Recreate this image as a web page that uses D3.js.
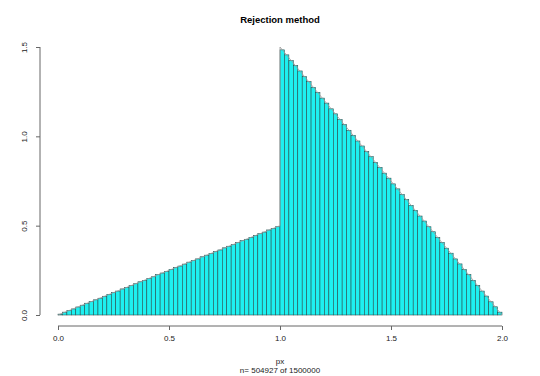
<!DOCTYPE html>
<html>
<head>
<meta charset="utf-8">
<script src="https://cdn.jsdelivr.net/npm/d3@7"></script>
<style>
  body { margin: 0; background: #fff; }
  svg { font-family: 'Liberation Sans', Arial, sans-serif; }
</style>
</head>
<body>
<div id="chart"></div>
<script>
// histogram of accepted samples, 100 bins of width 0.02 on [0, 2]
var binWidth = 0.02
// densities for bins on [0, 1)
var lowerDensity = [0.005, 0.016, 0.025, 0.034, 0.045, 0.055, 0.066, 0.075, 0.085, 0.094,
  0.105, 0.116, 0.125, 0.134, 0.146, 0.155, 0.164, 0.175, 0.186, 0.194,
  0.205, 0.214, 0.226, 0.235, 0.244, 0.255, 0.266, 0.274, 0.285, 0.296,
  0.305, 0.314, 0.326, 0.335, 0.344, 0.355, 0.364, 0.376, 0.385, 0.394,
  0.405, 0.416, 0.424, 0.435, 0.446, 0.455, 0.464, 0.476, 0.485, 0.494]
// densities for bins on [1, 2)
var upperDensity = [1.484, 1.456, 1.424, 1.396, 1.366, 1.334, 1.306, 1.274, 1.246, 1.214,
  1.186, 1.154, 1.126, 1.094, 1.066, 1.034, 1.006, 0.974, 0.946, 0.914,
  0.886, 0.854, 0.826, 0.794, 0.766, 0.734, 0.706, 0.674, 0.646, 0.614,
  0.586, 0.554, 0.526, 0.494, 0.466, 0.434, 0.406, 0.374, 0.346, 0.314,
  0.286, 0.254, 0.226, 0.194, 0.166, 0.134, 0.106, 0.074, 0.046, 0.016]
// theoretical density overlaid as a thin line
var curveX = [0, 1, 1, 2]
var curveY = [0, 0.5, 1.5, 0]
var xTicks = [0, 0.5, 1, 1.5, 2]
var yTicks = [0, 0.5, 1, 1.5]

var densities = lowerDensity.concat(upperDensity)
var bins = densities.map(function (d, i) {
  return { x0: i * binWidth, x1: (i + 1) * binWidth, y: d }
})

var W = 540
var H = 376

var svg = d3.select('#chart')
  .append('svg')
  .attr('width', W)
  .attr('height', H)

var x = d3.scaleLinear().domain([0, 2]).range([58, 502])
var y = d3.scaleLinear().domain([0, 1.5]).range([315, 47])

// bars
svg.selectAll('rect.bar')
  .data(bins)
  .enter()
  .append('rect')
  .attr('class', 'bar')
  .attr('x', function (d) { return x(d.x0) })
  .attr('width', function (d) { return x(d.x1) - x(d.x0) })
  .attr('y', function (d) { return y(d.y) })
  .attr('height', function (d) { return y(0) - y(d.y) })
  .attr('fill', '#1ef0f0')
  .attr('stroke', '#264848')
  .attr('stroke-width', 0.55)

// theoretical density
var line = d3.line()
  .x(function (d) { return x(d[0]) })
  .y(function (d) { return y(d[1]) })
svg.append('path')
  .datum(d3.zip(curveX, curveY))
  .attr('d', line)
  .attr('fill', 'none')
  .attr('stroke', '#9a9a9a')
  .attr('stroke-width', 0.8)

// x axis, R style (detached below the plot)
var xAxis = d3.axisBottom(x)
  .tickValues(xTicks)
  .tickFormat(d3.format('.1f'))
  .tickSize(4)
  .tickPadding(5)
var gx = svg.append('g')
  .attr('transform', 'translate(0,326)')
  .call(xAxis)
gx.select('.domain').attr('stroke', '#666').attr('d', 'M' + x(0) + ',0H' + x(2))
gx.selectAll('.tick line').attr('stroke', '#666')
gx.selectAll('text').attr('font-size', '8px').attr('fill', '#222')

// y axis with rotated labels
var yAxis = d3.axisLeft(y)
  .tickValues(yTicks)
  .tickFormat(d3.format('.1f'))
  .tickSize(4)
var gy = svg.append('g')
  .attr('transform', 'translate(40,0)')
  .call(yAxis)
gy.select('.domain').attr('stroke', '#666').attr('d', 'M0,' + y(0) + 'V' + y(1.5))
gy.selectAll('.tick line').attr('stroke', '#666')
gy.selectAll('text')
  .attr('font-size', '8px')
  .attr('fill', '#222')
  .attr('x', 0)
  .attr('dy', 0)
  .attr('transform', 'translate(-13,0) rotate(-90)')
  .style('text-anchor', 'middle')

// titles
svg.append('text')
  .attr('x', 280)
  .attr('y', 23)
  .attr('text-anchor', 'middle')
  .attr('font-size', '9.5px')
  .attr('font-weight', 'bold')
  .text('Rejection method')

svg.append('text')
  .attr('x', 280)
  .attr('y', 364)
  .attr('text-anchor', 'middle')
  .attr('font-size', '8px')
  .attr('fill', '#222')
  .text('px')

svg.append('text')
  .attr('x', 280)
  .attr('y', 373)
  .attr('text-anchor', 'middle')
  .attr('font-size', '8px')
  .attr('fill', '#222')
  .text('n= 504927 of 1500000')
</script>
</body>
</html>
